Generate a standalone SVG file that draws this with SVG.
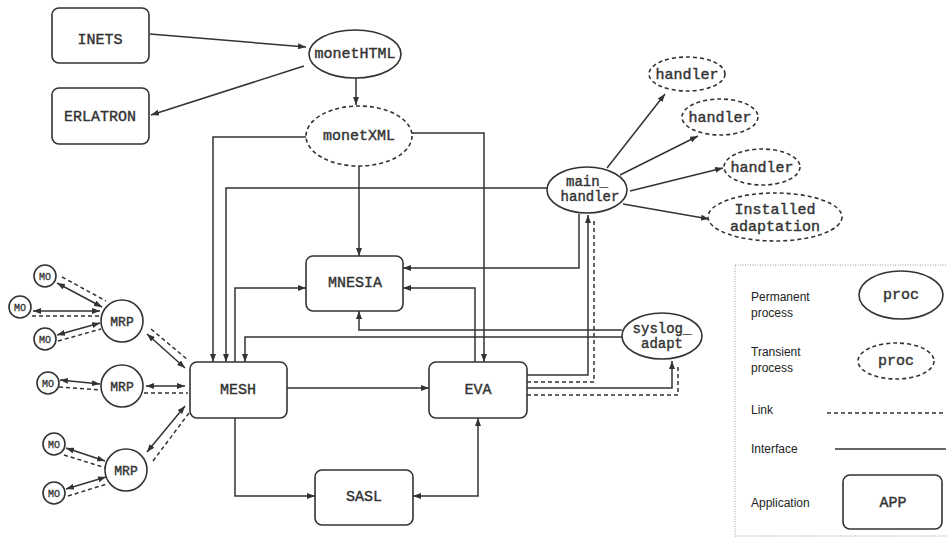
<svg xmlns="http://www.w3.org/2000/svg" width="946" height="538" viewBox="0 0 946 538">
<style>
.box{fill:#fff;stroke:#333;stroke-width:1.6}
.pp{fill:#fff;stroke:#333;stroke-width:1.6}
.tp{fill:#fff;stroke:#333;stroke-width:1.6;stroke-dasharray:4 3}
.t{font-family:"Liberation Mono","DejaVu Sans Mono",monospace;font-size:15px;fill:#333;stroke:#333;stroke-width:0.4;text-anchor:middle;dominant-baseline:central}
.t2{font-family:"Liberation Mono","DejaVu Sans Mono",monospace;font-size:14px;fill:#333;stroke:#333;stroke-width:0.4;text-anchor:middle;dominant-baseline:central}
.ts{font-family:"Liberation Mono","DejaVu Sans Mono",monospace;font-size:13px;fill:#333;stroke:#333;stroke-width:0.4;text-anchor:middle;dominant-baseline:central}
.tm{font-family:"Liberation Mono","DejaVu Sans Mono",monospace;font-size:10px;fill:#333;stroke:#333;stroke-width:0.3;text-anchor:middle;dominant-baseline:central}
.lg{font-family:"Liberation Sans",Arial,sans-serif;font-size:12px;fill:#222}
.c{fill:none;stroke:#333;stroke-width:1.5}
.d{fill:none;stroke:#333;stroke-width:1.5;stroke-dasharray:4 3}
</style>
<defs>
<marker id="a" viewBox="0 0 10 10" refX="10" refY="5" markerWidth="8" markerHeight="6" markerUnits="userSpaceOnUse" orient="auto-start-reverse" preserveAspectRatio="none">
<path d="M0,0 L10,5 L0,10 z" fill="#333"/>
</marker>
</defs>
<g id="connectors">
<path class="c" d="M150,34 L306,47" marker-end="url(#a)"/>
<path class="c" d="M304,66 L151,115" marker-end="url(#a)"/>
<path class="c" d="M356,78 V105" marker-end="url(#a)"/>
<path class="c" d="M306,137 H213 V362" marker-end="url(#a)"/>
<path class="c" d="M412,133 H484 V362" marker-end="url(#a)"/>
<path class="c" d="M359,166 V256" marker-end="url(#a)"/>
<path class="c" d="M547,188 H226 V362" marker-end="url(#a)"/>
<path class="c" d="M235,362 V288 H306" marker-end="url(#a)"/>
<path class="c" d="M475,362 V288 H403" marker-end="url(#a)"/>
<path class="c" d="M579,214 V268 H403" marker-end="url(#a)"/>
<path class="c" d="M622,330 H359 V311" marker-end="url(#a)"/>
<path class="c" d="M622,337 H245 V362" marker-end="url(#a)"/>
<path class="c" d="M287,388 H429" marker-end="url(#a)"/>
<path class="c" d="M235,418 V496 H315" marker-end="url(#a)"/>
<path class="c" d="M413,496 H478 V418" marker-start="url(#a)" marker-end="url(#a)"/>
<path class="c" d="M527,375 H588 V215" marker-end="url(#a)"/>
<path class="d" d="M527,382 H594 V218"/>
<path class="c" d="M527,388 H672 V361" marker-end="url(#a)"/>
<path class="d" d="M527,395 H678 V364"/>
<path class="c" d="M607,168 L665,94" marker-end="url(#a)"/>
<path class="c" d="M620,175 L698,136" marker-end="url(#a)"/>
<path class="c" d="M630,191 L723,168" marker-end="url(#a)"/>
<path class="c" d="M623,204 L709,219" marker-end="url(#a)"/>
<path class="c" d="M57,283 L102,307" marker-start="url(#a)" marker-end="url(#a)"/>
<path class="d" d="M62,277 L106,301"/>
<path class="c" d="M33,311 L100,311" marker-start="url(#a)" marker-end="url(#a)"/>
<path class="d" d="M32,316 L101,316"/>
<path class="c" d="M57,335 L100,323" marker-start="url(#a)" marker-end="url(#a)"/>
<path class="d" d="M58,341 L101,329"/>
<path class="c" d="M60,380 L100,384" marker-start="url(#a)" marker-end="url(#a)"/>
<path class="d" d="M59,387 L101,390"/>
<path class="c" d="M66,448 L105,461" marker-start="url(#a)" marker-end="url(#a)"/>
<path class="d" d="M64,455 L106,468"/>
<path class="c" d="M66,489 L106,477" marker-start="url(#a)" marker-end="url(#a)"/>
<path class="d" d="M68,496 L107,484"/>
<path class="c" d="M147,334 L185,368" marker-start="url(#a)" marker-end="url(#a)"/>
<path class="d" d="M151,329 L188,360"/>
<path class="c" d="M146,386 L185,386" marker-start="url(#a)" marker-end="url(#a)"/>
<path class="d" d="M144,393 L188,393"/>
<path class="c" d="M147,452 L185,406" marker-start="url(#a)" marker-end="url(#a)"/>
<path class="d" d="M153,461 L189,413"/>
</g>
<g id="inets"><rect class="box" x="52" y="8" width="97" height="55" rx="7"/><text class="t" x="100" y="40">INETS</text></g>
<g id="erlatron"><rect class="box" x="52" y="88" width="97" height="56" rx="7"/><text class="t" x="100" y="117">ERLATRON</text></g>
<g id="monethtml"><ellipse class="pp" cx="355" cy="54" rx="46" ry="24"/><text class="t" x="355" y="54">monetHTML</text></g>
<g id="monetxml"><ellipse class="tp" cx="359" cy="136" rx="53" ry="30"/><text class="t" x="359" y="136">monetXML</text></g>
<g id="main_handler"><ellipse class="pp" cx="587" cy="190" rx="40" ry="23"/><text class="t2" x="587" y="182">main_</text><text class="t2" x="590" y="197">handler</text></g>
<g id="handler1"><ellipse class="tp" cx="687" cy="74" rx="38" ry="17"/><text class="t" x="687" y="75">handler</text></g>
<g id="handler2"><ellipse class="tp" cx="720" cy="117" rx="38" ry="18"/><text class="t" x="720" y="118">handler</text></g>
<g id="handler3"><ellipse class="tp" cx="762" cy="167" rx="38" ry="18"/><text class="t" x="762" y="168">handler</text></g>
<g id="installed"><ellipse class="tp" cx="775" cy="217" rx="67" ry="24"/><text class="t" x="775" y="210">Installed</text><text class="t" x="775" y="227">adaptation</text></g>
<g id="mnesia"><rect class="box" x="306" y="256" width="97" height="55" rx="7"/><text class="t" x="355" y="283">MNESIA</text></g>
<g id="syslog_adapt"><ellipse class="pp" cx="662" cy="336" rx="40" ry="23"/><text class="t2" x="662" y="329">syslog_</text><text class="t2" x="662" y="344">adapt</text></g>
<g id="mesh"><rect class="box" x="190" y="362" width="97" height="56" rx="7"/><text class="t" x="238" y="390">MESH</text></g>
<g id="eva"><rect class="box" x="429" y="362" width="98" height="56" rx="7"/><text class="t" x="478" y="390">EVA</text></g>
<g id="sasl"><rect class="box" x="315" y="470" width="98" height="55" rx="7"/><text class="t" x="364" y="497">SASL</text></g>
<g id="mrp1"><circle class="pp" cx="122" cy="321" r="21"/><text class="ts" x="122" y="322">MRP</text></g>
<g id="mrp2"><circle class="pp" cx="122" cy="386" r="21"/><text class="ts" x="122" y="387">MRP</text></g>
<g id="mrp3"><circle class="pp" cx="126" cy="470" r="21"/><text class="ts" x="126" y="471">MRP</text></g>
<g id="mo1"><circle class="pp" cx="45" cy="276" r="11"/><text class="tm" x="45" y="277">MO</text></g>
<g id="mo2"><circle class="pp" cx="20" cy="307" r="11"/><text class="tm" x="20" y="308">MO</text></g>
<g id="mo3"><circle class="pp" cx="45" cy="339" r="11"/><text class="tm" x="45" y="340">MO</text></g>
<g id="mo4"><circle class="pp" cx="48" cy="383" r="11"/><text class="tm" x="48" y="384">MO</text></g>
<g id="mo5"><circle class="pp" cx="54" cy="444" r="11"/><text class="tm" x="54" y="445">MO</text></g>
<g id="mo6"><circle class="pp" cx="54" cy="493" r="11"/><text class="tm" x="54" y="494">MO</text></g>
<g id="legend">
<rect x="735" y="265" width="215" height="271" fill="none" stroke="#999" stroke-width="1" stroke-dasharray="1 1.5"/>
<text class="lg" x="751" y="301">Permanent</text><text class="lg" x="751" y="317">process</text>
<ellipse class="pp" cx="901" cy="295" rx="42" ry="24"/><text class="t" x="901" y="295">proc</text>
<text class="lg" x="751" y="356">Transient</text><text class="lg" x="751" y="372">process</text>
<ellipse class="tp" cx="896" cy="361" rx="38" ry="18"/><text class="t" x="896" y="361">proc</text>
<text class="lg" x="751" y="414">Link</text>
<path class="d" d="M827,413 H946"/>
<text class="lg" x="751" y="453">Interface</text>
<path class="c" d="M835,449 H946"/>
<text class="lg" x="751" y="507">Application</text>
<rect class="box" x="843" y="475" width="99" height="54" rx="7"/><text class="t" x="893" y="503">APP</text>
</g>
</svg>
